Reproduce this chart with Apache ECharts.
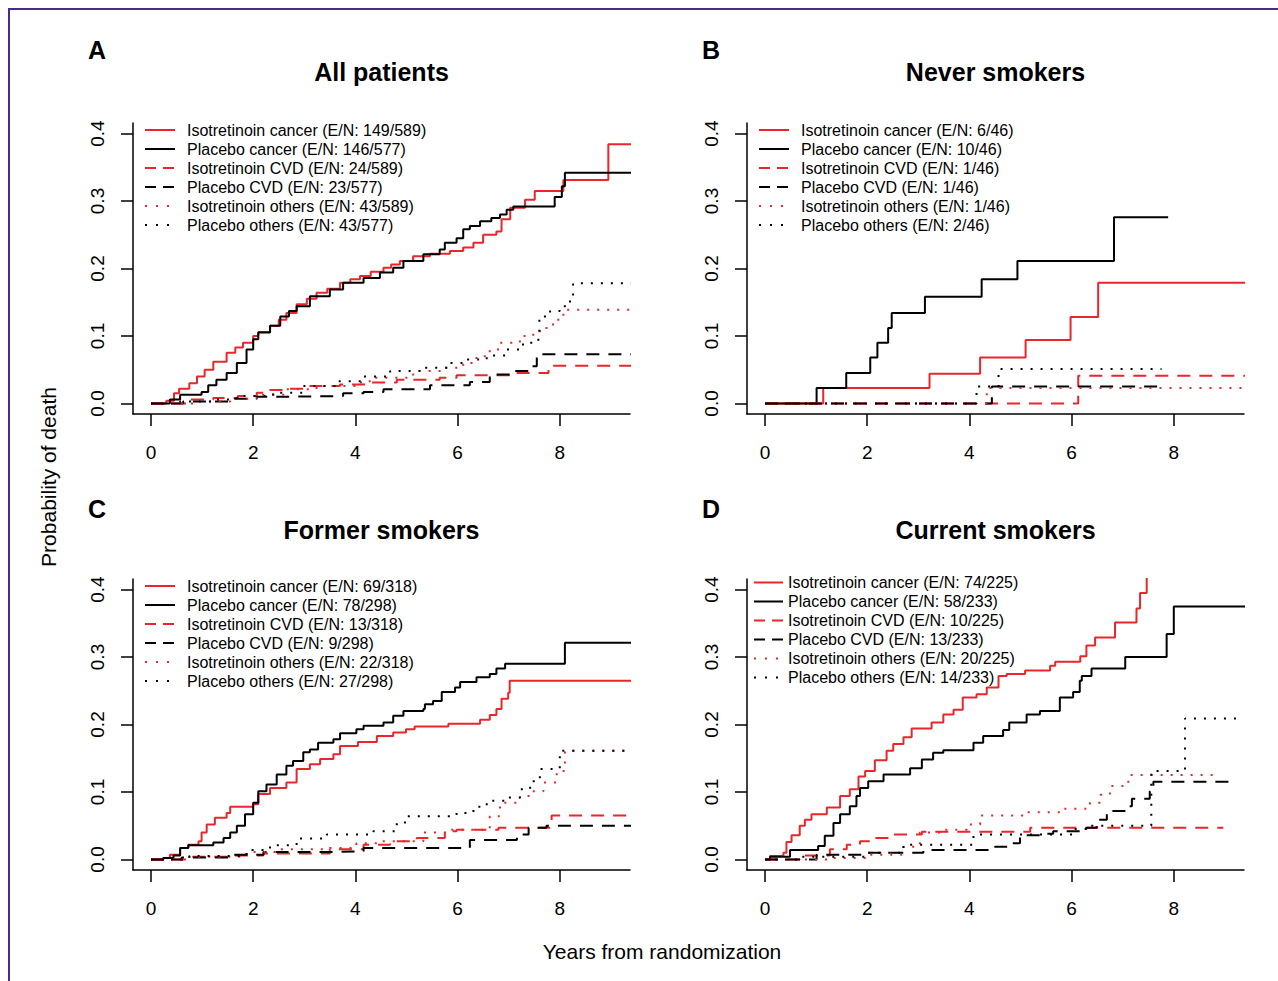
<!DOCTYPE html>
<html>
<head>
<meta charset="utf-8">
<title>Probability of death by cause</title>
<script src="https://cdn.jsdelivr.net/npm/echarts@6/dist/echarts.min.js"></script>
<style>
  html, body { margin: 0; padding: 0; background: #fff; }
  #chart { width: 1278px; height: 981px; }
</style>
</head>
<body>
<div id="chart"></div>
<script>
// ---- data ----
const panelLetters = ['A', 'B', 'C', 'D']
const panelTitles = ['All patients', 'Never smokers', 'Former smokers', 'Current smokers']
const curveNames = ['Isotretinoin cancer', 'Placebo cancer', 'Isotretinoin CVD', 'Placebo CVD', 'Isotretinoin others', 'Placebo others']
const eventCounts = [
  ['149/589', '146/577', '24/589', '23/577', '43/589', '43/577'],
  ['6/46', '10/46', '1/46', '1/46', '1/46', '2/46'],
  ['69/318', '78/298', '13/318', '9/298', '22/318', '27/298'],
  ['74/225', '58/233', '10/225', '13/233', '20/225', '14/233']
]
const xTicks = [0, 2, 4, 6, 8]
const yTicks = [0, 0.1, 0.2, 0.3, 0.4]

// [years, cumulative probability] — value holds from that time on
const A_isoCancer = [[0,0],[0.3,0.004],[0.45,0.015],[0.55,0.022],[0.75,0.03],[0.9,0.04],[1.05,0.05],[1.22,0.062],[1.48,0.075],[1.65,0.083],[1.8,0.09],[2.0,0.1],[2.1,0.106],[2.33,0.115],[2.5,0.124],[2.65,0.134],[2.85,0.147],[3.05,0.155],[3.24,0.164],[3.45,0.17],[3.7,0.179],[3.9,0.184],[4.09,0.189],[4.3,0.195],[4.55,0.201],[4.7,0.206],[4.87,0.211],[5.13,0.218],[5.46,0.222],[5.85,0.226],[6.11,0.231],[6.31,0.238],[6.5,0.25],[6.76,0.255],[6.86,0.273],[7.03,0.29],[7.32,0.302],[7.51,0.315],[8.07,0.331],[8.95,0.384],[9.5,0.384]]
const A_plaCancer = [[0,0],[0.37,0.006],[0.57,0.013],[0.99,0.017],[1.12,0.027],[1.28,0.035],[1.48,0.045],[1.68,0.06],[1.87,0.08],[2.0,0.095],[2.1,0.105],[2.33,0.115],[2.53,0.129],[2.7,0.137],[2.85,0.144],[3.11,0.159],[3.5,0.169],[3.76,0.179],[4.16,0.186],[4.48,0.194],[4.74,0.201],[4.94,0.211],[5.33,0.221],[5.65,0.228],[5.75,0.238],[5.98,0.245],[6.11,0.258],[6.24,0.263],[6.44,0.27],[6.66,0.275],[6.83,0.28],[6.96,0.287],[7.09,0.292],[7.9,0.306],[8.04,0.322],[8.1,0.342],[9.5,0.342]]
const A_isoCVD = [[0,0],[0.76,0.006],[1.22,0.008],[1.7,0.011],[2.07,0.016],[2.33,0.02],[2.59,0.022],[3.11,0.026],[3.7,0.028],[4.28,0.031],[4.81,0.035],[5.65,0.038],[5.98,0.042],[7.03,0.045],[7.78,0.056],[9.5,0.056]]
const A_plaCVD = [[0,0],[0.63,0.003],[1.55,0.007],[2.07,0.01],[2.72,0.011],[3.76,0.015],[4.16,0.017],[4.55,0.021],[5.46,0.027],[6.24,0.032],[6.63,0.043],[7.09,0.048],[7.39,0.055],[7.55,0.073],[9.5,0.073]]
const A_isoOther = [[0,0],[0.9,0.003],[1.55,0.007],[2.07,0.013],[2.65,0.021],[3.24,0.026],[4.02,0.031],[4.28,0.038],[5.13,0.048],[5.72,0.053],[6.11,0.06],[6.37,0.07],[6.63,0.08],[6.83,0.09],[7.22,0.1],[7.48,0.107],[7.74,0.117],[7.94,0.124],[8.07,0.139],[9.5,0.139]]
const A_plaOther = [[0,0],[0.57,0.003],[1.22,0.006],[1.68,0.011],[2.39,0.016],[2.98,0.026],[3.63,0.033],[4.16,0.04],[4.68,0.048],[5.26,0.053],[5.85,0.06],[6.11,0.065],[6.57,0.071],[6.96,0.08],[7.28,0.09],[7.58,0.1],[7.6,0.129],[7.81,0.137],[8.0,0.144],[8.2,0.154],[8.26,0.178],[9.5,0.178]]

const B_isoCancer = [[0,0],[1.14,0.023],[3.22,0.044],[4.21,0.068],[5.1,0.094],[5.98,0.128],[6.52,0.179],[9.5,0.179]]
const B_plaCancer = [[0,0],[1.01,0.023],[1.59,0.045],[2.06,0.068],[2.2,0.09],[2.41,0.112],[2.48,0.134],[3.13,0.158],[4.24,0.184],[4.94,0.211],[6.83,0.276],[7.89,0.276]]
const B_isoCVD = [[0,0],[6.13,0.041],[9.5,0.041]]
const B_plaCVD = [[0,0],[4.44,0.025],[7.76,0.025]]
const B_isoOther = [[0,0],[4.34,0.023],[9.5,0.023]]
const B_plaOther = [[0,0],[4.14,0.025],[4.57,0.051],[7.76,0.051]]

const C_isoCancer = [[0,0],[0.24,0.002],[0.37,0.007],[0.57,0.017],[0.73,0.022],[0.93,0.027],[0.99,0.04],[1.09,0.052],[1.25,0.062],[1.48,0.069],[1.55,0.078],[2.0,0.082],[2.1,0.097],[2.33,0.106],[2.65,0.114],[2.85,0.134],[3.11,0.141],[3.31,0.149],[3.57,0.156],[3.7,0.168],[4.05,0.174],[4.42,0.183],[4.74,0.188],[4.99,0.193],[5.16,0.197],[5.82,0.201],[6.44,0.207],[6.63,0.214],[6.76,0.223],[6.86,0.238],[6.99,0.247],[7.02,0.265],[9.5,0.265]]
const C_plaCancer = [[0,0],[0.24,0.002],[0.44,0.006],[0.57,0.017],[0.73,0.021],[1.22,0.025],[1.42,0.032],[1.55,0.04],[1.68,0.05],[1.84,0.067],[2.0,0.084],[2.1,0.101],[2.26,0.111],[2.46,0.126],[2.65,0.139],[2.78,0.146],[2.98,0.159],[3.11,0.163],[3.27,0.173],[3.57,0.178],[3.7,0.187],[4.02,0.193],[4.16,0.198],[4.55,0.203],[4.74,0.213],[4.94,0.22],[5.33,0.223],[5.36,0.23],[5.52,0.235],[5.69,0.248],[5.95,0.255],[6.05,0.263],[6.37,0.27],[6.63,0.275],[6.76,0.283],[6.93,0.29],[8.1,0.321],[9.5,0.321]]
const C_isoCVD = [[0,0],[0.7,0.004],[1.55,0.006],[2.2,0.009],[3.5,0.015],[4.16,0.022],[4.68,0.027],[5.2,0.032],[5.75,0.042],[5.98,0.044],[6.8,0.047],[7.84,0.065],[9.5,0.065]]
const C_plaCVD = [[0,0],[0.6,0.003],[1.55,0.007],[2.2,0.011],[3.5,0.012],[4.16,0.017],[6.24,0.029],[7.16,0.037],[7.39,0.047],[7.74,0.05],[9.5,0.05]]
const C_isoOther = [[0,0],[0.7,0.004],[1.87,0.011],[2.52,0.015],[3.5,0.017],[4.02,0.024],[4.48,0.027],[5.33,0.04],[5.78,0.044],[6.5,0.046],[6.63,0.064],[6.83,0.084],[7.22,0.094],[7.42,0.101],[7.68,0.114],[7.94,0.131],[8.1,0.161],[9.5,0.161]]
const C_plaOther = [[0,0],[0.75,0.005],[1.87,0.014],[2.33,0.021],[2.85,0.031],[3.44,0.037],[4.35,0.042],[4.81,0.054],[4.97,0.064],[5.98,0.069],[6.31,0.078],[6.57,0.087],[6.96,0.092],[7.22,0.104],[7.42,0.116],[7.61,0.134],[8.0,0.161],[9.5,0.161]]

const D_isoCancer = [[0,0],[0.1,0.005],[0.36,0.01],[0.42,0.026],[0.52,0.036],[0.68,0.05],[0.78,0.059],[0.91,0.067],[1.21,0.077],[1.47,0.094],[1.66,0.104],[1.83,0.123],[1.96,0.131],[2.15,0.147],[2.38,0.161],[2.51,0.171],[2.71,0.181],[2.87,0.194],[3.26,0.203],[3.49,0.215],[3.69,0.222],[3.87,0.24],[4.14,0.245],[4.34,0.255],[4.57,0.272],[4.73,0.275],[5.09,0.28],[5.58,0.287],[5.68,0.293],[6.17,0.301],[6.29,0.317],[6.46,0.329],[6.85,0.351],[7.27,0.372],[7.34,0.395],[7.47,0.43]]
const D_plaCancer = [[0,0],[0.1,0.004],[0.49,0.014],[1.04,0.02],[1.17,0.035],[1.34,0.054],[1.47,0.067],[1.66,0.079],[1.79,0.094],[1.86,0.106],[2.02,0.116],[2.32,0.126],[2.84,0.135],[3.07,0.148],[3.29,0.158],[3.49,0.162],[4.08,0.173],[4.27,0.183],[4.66,0.192],[4.78,0.203],[5.12,0.215],[5.38,0.22],[5.77,0.24],[6.03,0.248],[6.16,0.265],[6.2,0.272],[6.39,0.283],[7.05,0.3],[7.86,0.334],[8.0,0.375],[9.5,0.375]]
const D_isoCVD = [[0,0],[0.68,0.006],[1.27,0.015],[1.6,0.022],[1.86,0.027],[2.12,0.032],[2.45,0.037],[3.07,0.041],[5.19,0.047],[8.97,0.047]]
const D_plaCVD = [[0,0],[1.01,0.007],[1.99,0.01],[3.1,0.014],[4.5,0.019],[4.76,0.024],[4.99,0.036],[5.38,0.038],[5.64,0.042],[6.29,0.047],[6.49,0.059],[6.69,0.072],[7.08,0.079],[7.18,0.09],[7.53,0.101],[7.6,0.115],[9.16,0.115]]
const D_isoOther = [[0,0],[1.3,0.002],[1.99,0.007],[2.71,0.019],[3.03,0.04],[3.42,0.044],[3.95,0.052],[4.21,0.065],[5.06,0.07],[5.77,0.075],[6.29,0.078],[6.36,0.084],[6.56,0.096],[6.75,0.109],[7.11,0.125],[8.84,0.125]]
const D_plaOther = [[0,0],[0.68,0.004],[1.99,0.01],[2.71,0.022],[4.08,0.037],[6.03,0.045],[6.29,0.05],[7.56,0.131],[8.22,0.209],[9.22,0.209]]

const curves = [
  [A_isoCancer, A_plaCancer, A_isoCVD, A_plaCVD, A_isoOther, A_plaOther],
  [B_isoCancer, B_plaCancer, B_isoCVD, B_plaCVD, B_isoOther, B_plaOther],
  [C_isoCancer, C_plaCancer, C_isoCVD, C_plaCVD, C_isoOther, C_plaOther],
  [D_isoCancer, D_plaCancer, D_isoCVD, D_plaCVD, D_isoOther, D_plaOther]
]

// ---- layout / style ----
const FONT = '"Liberation Sans", Arial, Helvetica, sans-serif'
const RED = '#e8262b'
const grids = [
  { left: 133, top: 123, width: 497, height: 291 },
  { left: 747, top: 123, width: 497, height: 291 },
  { left: 133, top: 579, width: 497, height: 291 },
  { left: 747, top: 579, width: 497, height: 291 }
]
const legendPos = [
  { left: 144, top: 120.5, pad: 7, w: 30 },
  { left: 758, top: 120.5, pad: 7, w: 30 },
  { left: 144, top: 576.5, pad: 7, w: 30 },
  { left: 753, top: 573, pad: 0, w: 29 }
]
const curveStyle = [
  { color: RED, type: 'solid', legendType: 'solid' },
  { color: '#000', type: 'solid', legendType: 'solid' },
  { color: RED, type: [13, 9], legendType: [11, 7] },
  { color: '#000', type: [13, 9], legendType: [11, 7] },
  { color: RED, type: [2, 8], legendType: [2, 9] },
  { color: '#000', type: [2, 8], legendType: [2, 9] }
]

const fullName = (p, k) => curveNames[k] + ' (E/N: ' + eventCounts[p][k] + ')'

let series = []
curves.forEach((panel, p) => {
  panel.forEach((pts, k) => {
    series.push({
      name: fullName(p, k),
      type: 'line',
      xAxisIndex: p,
      yAxisIndex: p,
      step: 'end',
      symbol: 'none',
      silent: true,
      lineStyle: { color: curveStyle[k].color, width: 2, type: curveStyle[k].type, cap: 'butt' },
      itemStyle: { color: curveStyle[k].color },
      data: pts
    })
  })
})

const xAxes = grids.map((g, p) => ({
  gridIndex: p,
  type: 'value',
  min: -0.352,
  max: 9.374,
  axisLine: { show: true, onZero: false, lineStyle: { color: '#000', width: 1.5 } },
  axisTick: { show: true, length: 12, customValues: xTicks, lineStyle: { color: '#000', width: 1.5 } },
  axisLabel: { customValues: xTicks, fontSize: 19, fontFamily: FONT, color: '#000', margin: 29 },
  splitLine: { show: false }
}))

const yAxes = grids.map((g, p) => ({
  gridIndex: p,
  type: 'value',
  min: -0.0156,
  max: 0.4156,
  axisLine: { show: true, onZero: false, lineStyle: { color: '#000', width: 1.5 } },
  axisTick: { show: true, length: 12, customValues: yTicks, lineStyle: { color: '#000', width: 1.5 } },
  axisLabel: {
    customValues: yTicks, rotate: 90, fontSize: 19, fontFamily: FONT, color: '#000', margin: 26,
    formatter: v => v.toFixed(1)
  },
  splitLine: { show: false }
}))

const legends = legendPos.map((lp, p) => ({
  orient: 'vertical',
  left: lp.left,
  top: lp.top,
  padding: 0,
  itemWidth: lp.w,
  itemHeight: 14,
  itemGap: 0,
  selectedMode: false,
  itemStyle: { color: 'rgba(0,0,0,0)', borderWidth: 0 },
  textStyle: { fontSize: 16, fontFamily: FONT, color: '#000', lineHeight: 19, padding: [0, 0, 0, lp.pad] },
  data: curveNames.map((n, k) => ({
    name: fullName(p, k),
    lineStyle: { color: curveStyle[k].color, width: 2, type: curveStyle[k].legendType, cap: 'butt' }
  }))
}))

const textEl = (x, y, text, size, bold, rot) => ({
  type: 'text', x: x, y: y, rotation: rot || 0, silent: true,
  style: { text: text, fontSize: size, fontWeight: bold ? 'bold' : 'normal', fontFamily: FONT, fill: '#000', align: 'center', verticalAlign: 'middle' }
})

let graphic = [
  { type: 'rect', silent: true, shape: { x: 9, y: 9, width: 1400, height: 1100 }, style: { fill: 'none', stroke: '#4b2a85', lineWidth: 2 } },
  textEl(48, 477, 'Probability of death', 21, false, Math.PI / 2),
  textEl(662, 951, 'Years from randomization', 21, false)
]
grids.forEach((g, p) => {
  const titleY = g.top < 300 ? 72 : 530
  const letterY = g.top < 300 ? 50 : 509
  graphic.push(textEl(g.left - 36, letterY, panelLetters[p], 25, true))
  graphic.push(textEl(g.left + g.width / 2, titleY, panelTitles[p], 25, true))
})

const chart = echarts.init(document.getElementById('chart'), null, { renderer: 'svg' })
chart.setOption({
  animation: false,
  backgroundColor: '#fff',
  grid: grids,
  xAxis: xAxes,
  yAxis: yAxes,
  legend: legends,
  graphic: graphic,
  series: series
})
</script>
</body>
</html>
